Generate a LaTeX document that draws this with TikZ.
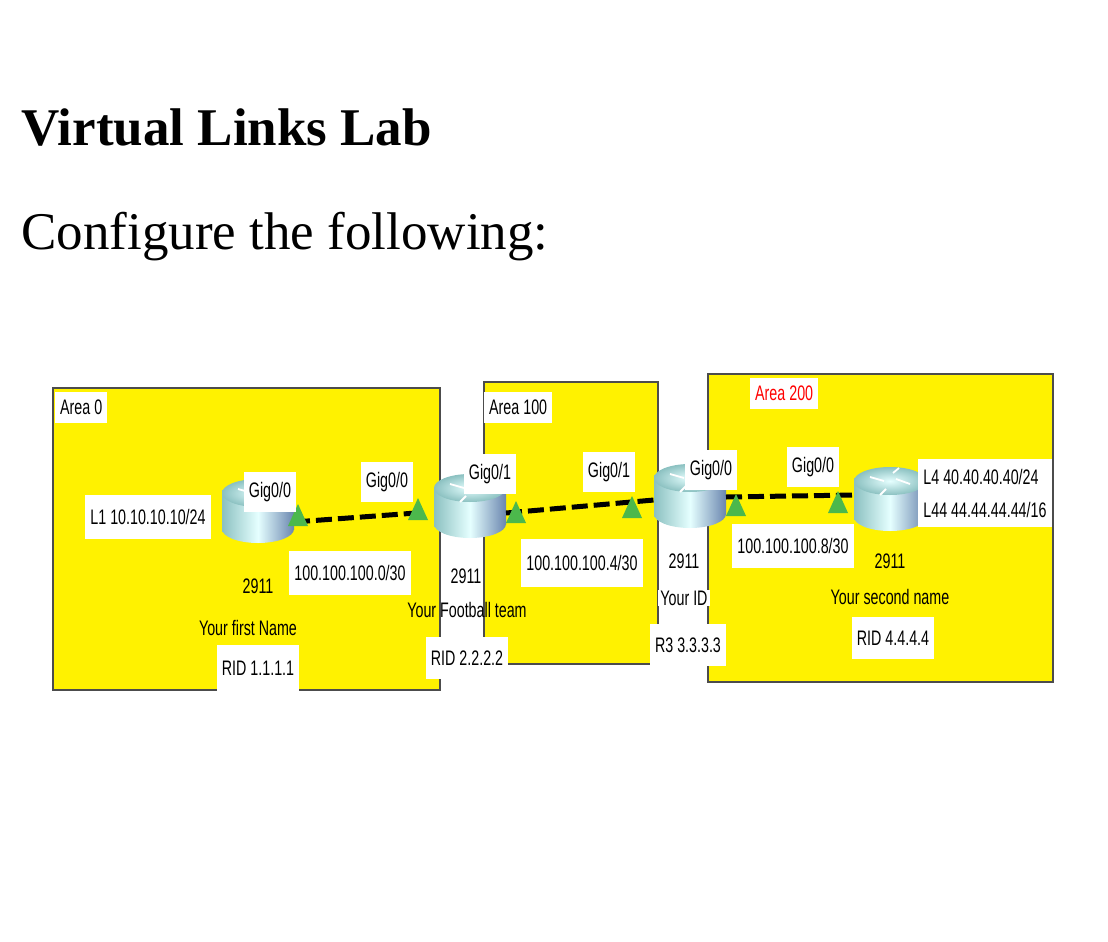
\documentclass[tikz,border=0pt]{standalone}
\usepackage{fontspec}
\setmainfont{Liberation Serif}
\newfontfamily\lab[FakeStretch=0.68]{Liberation Sans}
\begin{document}
\begin{tikzpicture}[x=1pt,y=-1pt,
  area/.style={fill=yellow,draw=black!70,line width=1.5pt},
  wbox/.style={fill=white,inner sep=5pt,font=\lab\fontsize{21}{23}\selectfont},
  txt/.style={inner sep=1pt,font=\lab\fontsize{21}{23}\selectfont},
  link/.style={line width=5pt,dash pattern=on 16pt off 6pt},
  tri/.style={fill=green!60!black!70,draw=none}]
\useasboundingbox (0,0) rectangle (1108,942);
\node[anchor=west,font=\bfseries\fontsize{53}{55}\selectfont] (title) at (18,128) {Virtual Links Lab};
\node[anchor=west,font=\fontsize{53}{55}\selectfont] (conf) at (18,237) {Configure the following:};
\draw[area] (53,388) rectangle (440,690);
\draw[area] (484,382) rectangle (658,664);
\draw[area] (708,374) rectangle (1053,682);
\node[wbox,anchor=north west,inner ysep=8pt] (a0) at (55,392) {Area 0};
\node[wbox,anchor=north west,inner ysep=8pt] (a100) at (484,392) {Area 100};
\node[wbox,anchor=north west,text=red,inner ysep=8pt] (a200) at (750,378) {Area 200};
% routers
\foreach \n/\x/\y in {r1/258/505,r2/470/500,r3/690/490,r4/890/493}{
  \coordinate (\n) at (\x,\y);
  \shade[left color=cyan!30!gray!70,right color=cyan!40!blue!30!gray!90,middle color=cyan!10!white] (\x-36,\y-12) rectangle (\x+36,\y+24);
  \shade[left color=cyan!30!gray!70,right color=cyan!40!blue!30!gray!90,middle color=cyan!10!white] (\x,\y+24) ellipse [x radius=36,y radius=14];
  \shade[inner color=cyan!10!white,outer color=cyan!30!gray!70] (\x,\y-12) ellipse [x radius=36,y radius=14];
  \draw[white,line width=1.8pt] (\x-20,\y-16)--(\x-6,\y-12) (\x+6,\y-14)--(\x+20,\y-9) (\x-4,\y-4)--(\x-10,\y+2) (\x+3,\y-20)--(\x+9,\y-25);
}
\coordinate (p1) at (294,522); \coordinate (p2) at (416,513);
\coordinate (p3) at (506,513); \coordinate (p4) at (654,500);
\coordinate (p5) at (726,497); \coordinate (p6) at (856,495);
\draw[link] (p1)--(p2); \draw[link] (p3)--(p4); \draw[link] (p5)--(p6);
\foreach \x/\y in {298/518,418/512,516/515,632/510,736/508,838/505}
  \fill[tri] (\x-10,\y+8)--(\x,\y-14)--(\x+10,\y+8)--cycle;
% labels
\node[wbox,inner ysep=10pt] (g1) at (270,492) {Gig0/0};
\node[wbox,inner ysep=10pt] (g2) at (387,482) {Gig0/0};
\node[wbox,inner ysep=10pt] (g3) at (490,474) {Gig0/1};
\node[wbox,inner ysep=10pt] (g4) at (609,472) {Gig0/1};
\node[wbox,inner ysep=10pt] (g5) at (711,470) {Gig0/0};
\node[wbox,inner ysep=10pt] (g6) at (813,467) {Gig0/0};
\node[wbox,inner ysep=14pt] (l1) at (148,517) {L1 10.10.10.10/24};
\node[wbox,inner ysep=14pt] (n1) at (350,573) {100.100.100.0/30};
\node[wbox,inner ysep=16pt] (n2) at (582,563) {100.100.100.4/30};
\node[wbox,inner ysep=14pt] (n3) at (793,546) {100.100.100.8/30};
\node[wbox,align=left,inner ysep=10pt] (l4) at (985,493) {L4 40.40.40.40/24\\[10pt]L44 44.44.44.44/16};
\node[txt] (m1) at (258,586) {2911};
\node[txt] (y1) at (248,628) {Your first Name};
\node[wbox,inner ysep=16pt] (rid1) at (258,668) {RID 1.1.1.1};
\node[txt,fill=white,inner xsep=2pt] (m2) at (466,576) {2911};
\node[txt] (y2) at (467,610) {Your Football team};
\node[wbox,inner ysep=14pt] (rid2) at (467,658) {RID 2.2.2.2};
\node[txt,fill=white,inner xsep=2pt] (m3) at (684,561) {2911};
\node[txt,fill=white,inner xsep=2pt] (y3) at (684,598) {Your ID};
\node[wbox,inner ysep=14pt] (rid3) at (688,645) {R3 3.3.3.3};
\node[txt] (m4) at (890,561) {2911};
\node[txt] (y4) at (890,597) {Your second name};
\node[wbox,inner ysep=14pt] (rid4) at (893,638) {RID 4.4.4.4};
\end{tikzpicture}
\end{document}
